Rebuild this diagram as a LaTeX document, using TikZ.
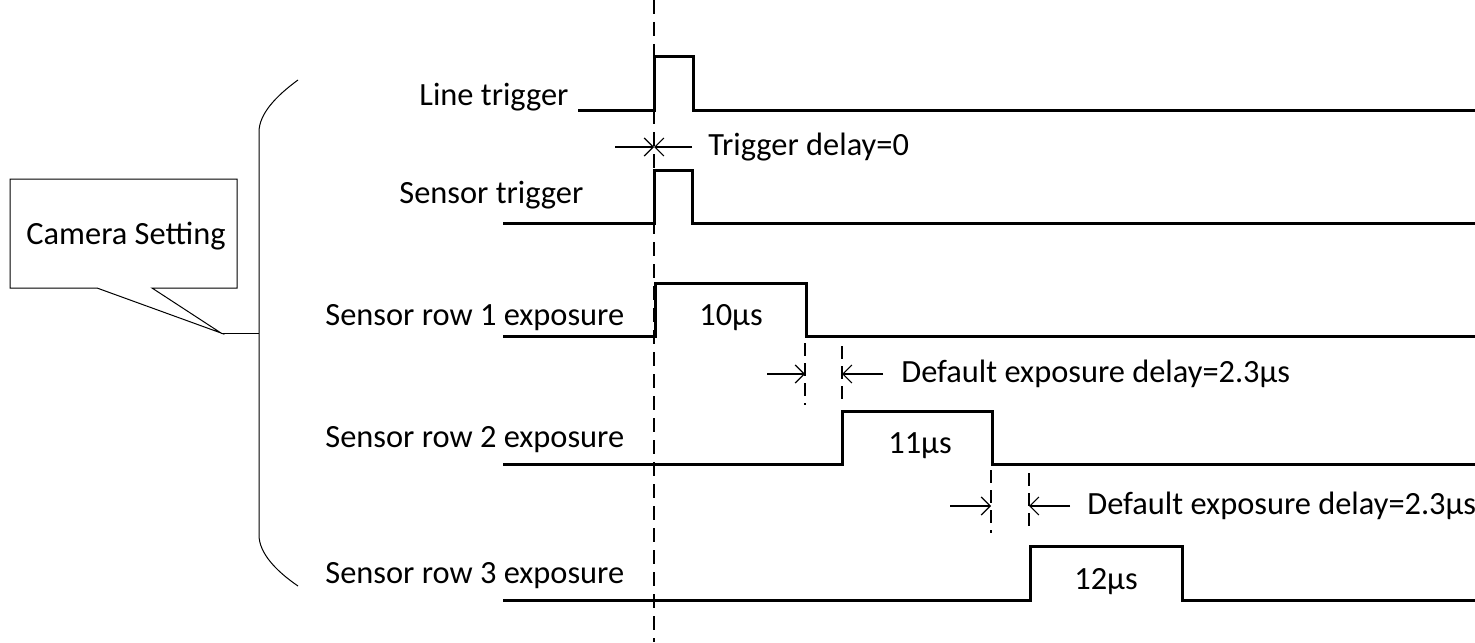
\documentclass[tikz,border=0pt]{standalone}
\usepackage{fontspec}
\setmainfont{Carlito}
\usepackage{tikz}
\usetikzlibrary{arrows.meta,calc,positioning}

\begin{document}
\begin{tikzpicture}[x=0.5pt,y=-0.5pt,
                    signal/.style={line width=1.5pt,line join=miter},
                    thin line/.style={line width=0.5pt},
                    marker/.style={line width=0.8pt,dash pattern=on 6pt off 4pt},
                    delay mark/.style={line width=0.8pt,dash pattern=on 6.5pt off 3.5pt},
                    delay arrow/.style={line width=0.6pt,-{Straight Barb[length=4.5pt,width=9pt,line width=0.6pt]}},
                    label node/.style={anchor=base west,inner sep=0pt,font=\fontsize{16.2}{19}\selectfont},
                    width node/.style={anchor=base,inner sep=0pt,font=\fontsize{16.2}{19}\selectfont}]

 \useasboundingbox (0,0) rectangle (1475,642);

 % time zero
 \draw[marker,dash pattern=on 7pt off 4pt] (654,0) -- (654,642);

 % signal names
 \node[label node] (line trig) at (419,105) {Line trigger};
 \node[label node] (sens trig) at (399,203) {Sensor trigger};
 \node[label node] (row1) at (325,325) {Sensor row 1 exposure};
 \node[label node] (row2) at (325,447) {Sensor row 2 exposure};
 \node[label node] (row3) at (325,583) {Sensor row 3 exposure};

 % waveforms
 \draw[signal] (578,110) -- (654,110) -- (654,57) -- (693,57) -- (693,110) -- (1475,110);
 \draw[signal] (503,223) -- (654,223) -- (654,170) -- (692,170) -- (692,223) -- (1475,223);
 \draw[signal] (503,336) -- (655,336) -- (655,283) -- (806,283) -- (806,336) -- (1475,336);
 \draw[signal] (503,464) -- (842,464) -- (842,411) -- (992,411) -- (992,464) -- (1475,464);
 \draw[signal] (503,600) -- (1030,600) -- (1030,546) -- (1182,546) -- (1182,600) -- (1475,600);

 \node[width node] (w1) at (731,325) {10µs};
 \node[width node] (w2) at (920,453) {11µs};
 \node[width node] (w3) at (1106,589) {12µs};

 % trigger delay
 \coordinate (td l) at (615,147);
 \coordinate (td m) at (654,147);
 \coordinate (td r) at (692,147);
 \draw[delay arrow] (td l) -- (td m);
 \draw[delay arrow] (td r) -- (td m);
 \node[anchor=west,inner sep=0pt,font=\fontsize{16.2}{19}\selectfont] (td) at (708,147) {Trigger delay=0};

 % exposure delays
 \draw[delay mark] (805,343) -- (805,405);
 \draw[delay mark] (842,346) -- (842,405);
 \coordinate (d1 a) at (767,374);
 \coordinate (d1 b) at (805,374);
 \coordinate (d1 c) at (842,374);
 \coordinate (d1 d) at (883,374);
 \draw[delay arrow] (d1 a) -- (d1 b);
 \draw[delay arrow] (d1 d) -- (d1 c);
 \node[anchor=west,inner sep=0pt,font=\fontsize{16.2}{19}\selectfont] (d1) at (901,374) {Default exposure delay=2.3µs};

 \draw[delay mark] (991,470) -- (991,533);
 \draw[delay mark] (1029,473) -- (1029,533);
 \coordinate (d2 a) at (950,506);
 \coordinate (d2 b) at (991,506);
 \coordinate (d2 c) at (1029,506);
 \coordinate (d2 d) at (1070,506);
 \draw[delay arrow] (d2 a) -- (d2 b);
 \draw[delay arrow] (d2 d) -- (d2 c);
 \node[anchor=west,inner sep=0pt,font=\fontsize{16.2}{19}\selectfont] (d2) at (1087,506) {Default exposure delay=2.3µs};

 % brace and callout
 \draw[thin line] (298,80) .. controls (276,96) and (259,114) .. (259,132) -- (259,535)
   .. controls (259,553) and (276,571) .. (298,586);
 \coordinate (tip) at (221,333);
 \draw[thin line] (tip) -- (259,333);
 \draw[thin line,fill=white] (10,179) -- (237,179) -- (237,288) -- (152,288) -- (tip) -- (97,288) -- (10,288) -- cycle;
 \node[font=\fontsize{16.2}{19}\selectfont,inner sep=0pt] (cam) at (126,236) {Camera Setting};

\end{tikzpicture}
\end{document}
